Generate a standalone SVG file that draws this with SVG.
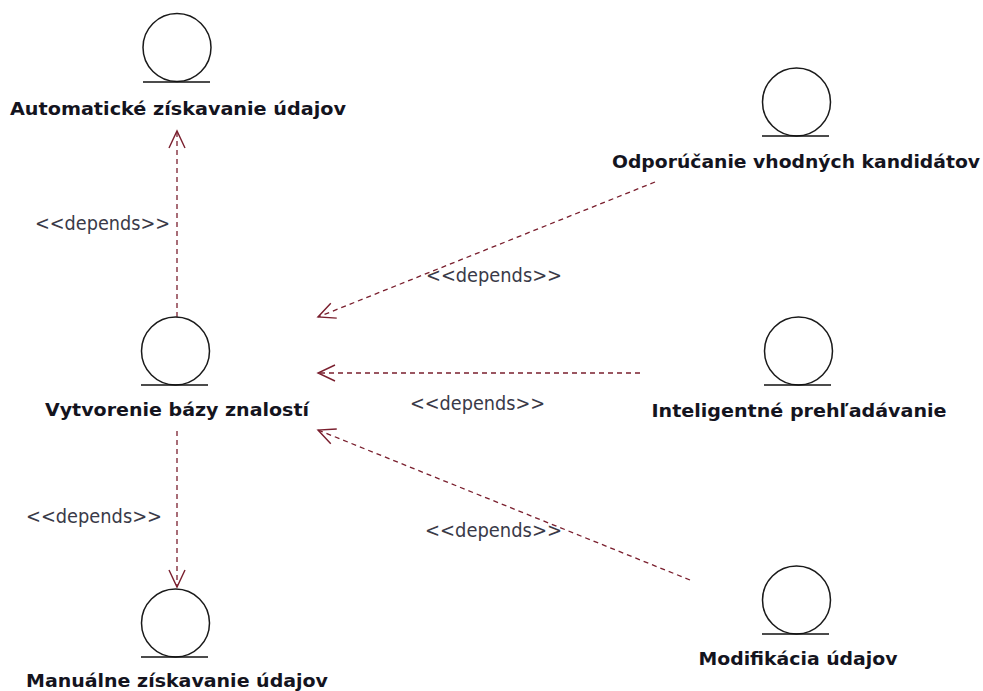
<svg xmlns="http://www.w3.org/2000/svg" width="983" height="691" viewBox="0 0 983 691">
<style>
.c{fill:none;stroke:#1a1a1a;stroke-width:1.5}
.b{stroke:#111;stroke-width:1.6}
.n{font:bold 18.500px "DejaVu Sans",sans-serif;fill:#14141e;text-anchor:middle}
.l{font:20px "DejaVu Sans",sans-serif;fill:#3a3a48}
.d{fill:none;stroke:#7a1f2e;stroke-width:1.3;stroke-dasharray:5 4;marker-end:url(#a)}
</style>
<defs>
<marker id="a" markerUnits="userSpaceOnUse" markerWidth="24" markerHeight="24" refX="20" refY="12" orient="auto">
<path d="M3 4L20 12L3 20" fill="none" stroke="#7a1f2e" stroke-width="1.400"/>
</marker>
</defs>
<rect width="983" height="691" fill="#fff"/>
<g id="connectors">
<path class="d" d="M177 317V131"/>
<path class="d" d="M177 431V587"/>
<path class="d" d="M655 182L318 317"/>
<path class="d" d="M640 373H318"/>
<path class="d" d="M690 580L318 430"/>
<text class="l" x="35" y="230" textLength="135" lengthAdjust="spacingAndGlyphs">&lt;&lt;depends&gt;&gt;</text>
<text class="l" x="426" y="282" textLength="136" lengthAdjust="spacingAndGlyphs">&lt;&lt;depends&gt;&gt;</text>
<text class="l" x="410" y="410" textLength="135" lengthAdjust="spacingAndGlyphs">&lt;&lt;depends&gt;&gt;</text>
<text class="l" x="26" y="523" textLength="136" lengthAdjust="spacingAndGlyphs">&lt;&lt;depends&gt;&gt;</text>
<text class="l" x="425" y="537" textLength="137" lengthAdjust="spacingAndGlyphs">&lt;&lt;depends&gt;&gt;</text>
</g>
<g id="n1"><circle class="c" cx="177" cy="47.500" r="34"/><path class="b" d="M143 82H210"/><text class="n" x="178" y="115" textLength="336" lengthAdjust="spacingAndGlyphs">Automatické získavanie údajov</text></g>
<g id="n2"><circle class="c" cx="175.500" cy="351" r="34"/><path class="b" d="M141 385H208"/><text class="n" x="177" y="416" textLength="264" lengthAdjust="spacingAndGlyphs">Vytvorenie bázy znalostí</text></g>
<g id="n3"><circle class="c" cx="175.500" cy="623" r="34"/><path class="b" d="M141 657H208"/><text class="n" x="177" y="687" textLength="302" lengthAdjust="spacingAndGlyphs">Manuálne získavanie údajov</text></g>
<g id="n4"><circle class="c" cx="796.500" cy="102" r="34"/><path class="b" d="M762 136H829"/><text class="n" x="796" y="168" textLength="368" lengthAdjust="spacingAndGlyphs">Odporúčanie vhodných kandidátov</text></g>
<g id="n5"><circle class="c" cx="798.500" cy="351" r="34"/><path class="b" d="M764 385H831"/><text class="n" x="799" y="417" textLength="295" lengthAdjust="spacingAndGlyphs">Inteligentné prehľadávanie</text></g>
<g id="n6"><circle class="c" cx="796.500" cy="600" r="34"/><path class="b" d="M762 634H829"/><text class="n" x="798" y="665" textLength="199" lengthAdjust="spacingAndGlyphs">Modifikácia údajov</text></g>
</svg>
